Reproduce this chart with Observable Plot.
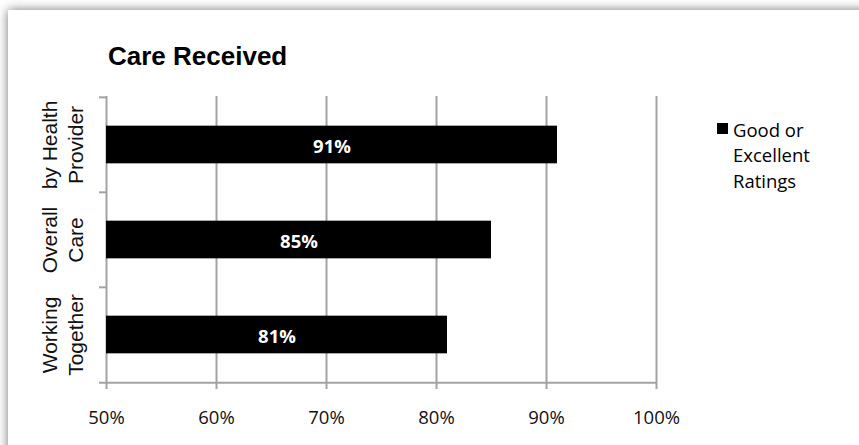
<!DOCTYPE html>
<html>
<head>
<meta charset="utf-8">
<script src="https://cdn.jsdelivr.net/npm/d3@7"></script>
<script src="https://cdn.jsdelivr.net/npm/@observablehq/plot@0.6"></script>
<style>
  html, body { margin: 0; padding: 0; background: #fff; width: 859px; height: 445px; overflow: hidden; }
  #frame { position: absolute; left: 8px; top: 10px; width: 900px; height: 500px; background: #fff;
           box-shadow: 0 0 10px 0 rgba(0,0,0,0.55); }
  #chart { position: absolute; left: 0; top: 0; }
  #title { position: absolute; left: 108px; top: 42.5px; font-family: "Liberation Sans", Arial, sans-serif;
           font-weight: bold; font-size: 26px; line-height: 26px; color: #000; white-space: nowrap; }
  #legend { position: absolute; left: 717px; top: 116.5px; font-family: "Open Sans", sans-serif;
            font-size: 18.5px; line-height: 25.7px; color: #000; }
  #legend .sw { position: absolute; left: 0; top: 6.5px; width: 11px; height: 11px; background: #000; }
  #legend .lbl { position: absolute; left: 16px; top: 0; width: 100px; }
</style>
</head>
<body>
<div id="frame"></div>
<div id="chart"></div>
<div id="title"></div>
<div id="legend"><div class="sw"></div><div class="lbl"></div></div>
<script>
const titleText = "Care Received";
const categories = ["by Health\nProvider", "Overall\nCare", "Working\nTogether"];
const values = [91, 85, 81];
const xTicks = [50, 60, 70, 80, 90, 100];
const seriesName = "Good or Excellent Ratings";
const legendLines = ["Good or", "Excellent", "Ratings"];

const data = categories.map((c, i) => ({category: c, value: values[i]}));

const W = 859, H = 445, mL = 106, mR = 203, mT = 96, mB = 63;
const bw = (H - mT - mB) / categories.length;
const barH = 38;
const inset = (bw - barH) / 2;
const gray = "#a3a3a3";
const xMin = xTicks[0], xMax = xTicks[xTicks.length - 1];

const chart = Plot.plot({
  width: W, height: H,
  marginLeft: mL, marginRight: mR, marginTop: mT, marginBottom: mB,
  style: {background: "transparent", overflow: "visible"},
  x: {domain: [xMin, xMax], axis: null},
  y: {domain: categories, padding: 0, axis: null},
  marks: [
    Plot.ruleX(xTicks, {x: d => d, stroke: gray, strokeWidth: 2, insetBottom: -7}),
    Plot.ruleY(categories, {y: d => d, dy: -bw / 2, x1: xMin, x2: xMin, insetLeft: -7, stroke: gray, strokeWidth: 2}),
    Plot.ruleY([categories[categories.length - 1]], {y: d => d, dy: bw / 2, insetLeft: -7, stroke: gray, strokeWidth: 2}),
    Plot.barX(data, {x1: xMin, x2: "value", y: "category", fill: "#000", insetTop: inset, insetBottom: inset}),
    Plot.text(data, {x: d => (xMin + d.value) / 2, y: "category", text: d => d.value + "%",
      fill: "#fff", fontWeight: "bold", fontSize: 18.5, fontFamily: "Open Sans", dy: 2.5}),
    Plot.text(xTicks, {x: d => d, frameAnchor: "bottom", lineAnchor: "middle", dy: 36, text: d => d + "%",
      fontSize: 18.5, fontFamily: "Open Sans", fill: "#111"}),
    Plot.text(categories, {y: d => d, frameAnchor: "left", dx: -44.5, rotate: -90, text: d => d,
      textAnchor: "middle", lineAnchor: "middle", lineHeight: 1.2,
      fontSize: 21, fontFamily: "Liberation Sans", fill: "#111"})
  ]
});
document.getElementById("chart").appendChild(chart);
document.getElementById("title").textContent = titleText;
document.querySelector("#legend .lbl").innerHTML = legendLines.join("<br>");
document.querySelector("#legend").setAttribute("title", seriesName);
</script>
</body>
</html>
